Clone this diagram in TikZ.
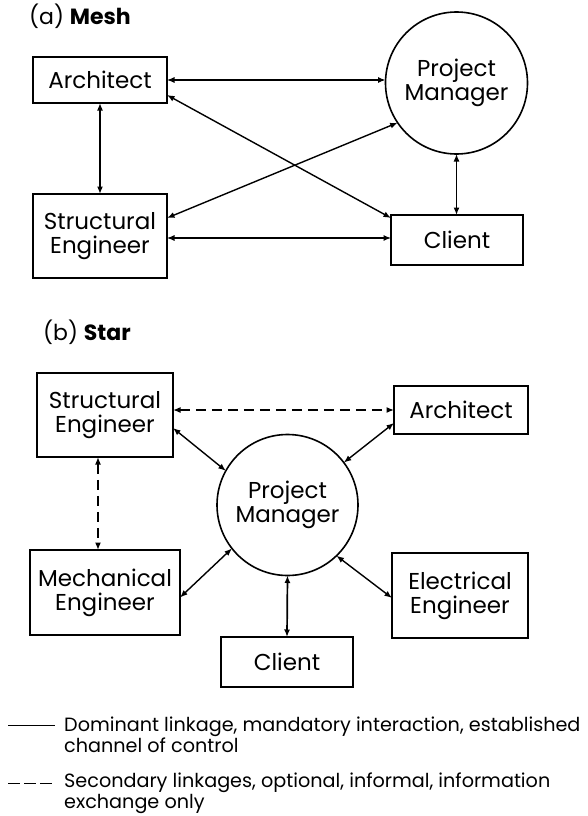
\documentclass[tikz,border=0pt]{standalone}
\usepackage{fontspec}
\setmainfont{Poppins}
\usetikzlibrary{arrows.meta}
\begin{document}
\begin{tikzpicture}[x=1pt,y=1pt,
  lbl/.style={font=\fontsize{23}{24}\selectfont, align=center},
  box/.style={draw, line width=1.6pt, rectangle, inner sep=0pt, outer sep=0pt, lbl},
  hub/.style={draw, line width=1.6pt, circle, inner sep=0pt, outer sep=0pt, lbl},
  link/.style={line width=1.4pt, {Latex[length=7.5pt,width=6pt]}-{Latex[length=7.5pt,width=6pt]}},
  light link/.style={link, line width=1.1pt},
  informal/.style={link, dash pattern=on 10pt off 6pt},
  heading/.style={anchor=west, inner sep=0pt, font=\fontsize{22}{24}\selectfont},
  legendtext/.style={anchor=north west, inner sep=0pt, align=left, font=\fontsize{19.2}{18}\selectfont}
]
\useasboundingbox (0,0) rectangle (587,-816);

% ---------- (a) Mesh ----------
\node[heading] (ta) at (29,-16) {(a) \textbf{Mesh}};

\node[box, minimum width=134pt, minimum height=46pt] (m-arch) at (100,-80) {Architect};
\node[box, minimum width=134pt, minimum height=84pt] (m-se) at (100,-236) {Structural\\Engineer};
\node[box, minimum width=132pt, minimum height=50pt] (m-client) at (457,-240) {Client};
\node[hub, minimum size=142pt] (m-pm) at (456.5,-83) {Project\\Manager};

\draw[light link] (m-arch.east) -- (m-arch.east -| m-pm.west);
\draw[link, line width=1.7pt] (m-arch.south) -- (m-arch.south |- m-se.north);
\draw[link] ([yshift=-15pt]m-arch.east) -- ([yshift=-3pt]m-client.north west);
\draw[link] ([yshift=18pt]m-se.east) -- (m-pm.214);
\draw[light link] ([yshift=-2pt]m-se.east) -- ([yshift=-2pt]m-se.east -| m-client.west);
\draw[link] (m-pm.south) -- (m-pm.south |- m-client.north);

% ---------- (b) Star ----------
\node[heading] (tb) at (43,-332) {(b) \textbf{Star}};

\node[box, minimum width=136pt, minimum height=84pt] (s-se) at (105,-415) {Structural\\Engineer};
\node[box, minimum width=134pt, minimum height=48pt] (s-arch) at (461,-410) {Architect};
\node[box, minimum width=150pt, minimum height=85pt] (s-me) at (105,-592.5) {Mechanical\\Engineer};
\node[box, minimum width=136pt, minimum height=85pt] (s-ee) at (460,-595.5) {Electrical\\Engineer};
\node[box, minimum width=132pt, minimum height=50pt] (s-client) at (287,-662) {Client};
\node[hub, minimum size=141pt] (s-pm) at (287.5,-505) {Project\\Manager};

\draw[informal] (s-arch.west -| s-se.east) -- (s-arch.west);
\draw[informal, line width=1.7pt] ([xshift=-7pt]s-se.south) -- ([xshift=-7pt]s-se.south |- s-me.north);
\draw[link] ([yshift=-13pt]s-se.east) -- (s-pm.151);
\draw[link] ([yshift=-13pt]s-arch.west) -- (s-pm.37);
\draw[link] ([yshift=-5pt]s-me.east) -- (s-pm.218);
\draw[link] ([yshift=-2.5pt]s-ee.west) -- (s-pm.314);
\draw[link, line width=1.7pt] (s-pm.south) -- (s-client.north);

% ---------- key ----------
\coordinate (k1a) at (8,-725);
\coordinate (k1b) at (55,-725);
\coordinate (k2a) at (8,-783);
\coordinate (k2b) at (55,-783);
\draw[line width=1pt] (k1a) -- (k1b);
\draw[line width=1pt, dash pattern=on 12pt off 4pt] (k2a) -- (k2b);
\node[legendtext] (key1) at (64,-717) {Dominant linkage, mandatory interaction, established\\channel of control};
\node[legendtext] (key2) at (64,-773) {Secondary linkages, optional, informal, information\\exchange only};
\end{tikzpicture}
\end{document}
